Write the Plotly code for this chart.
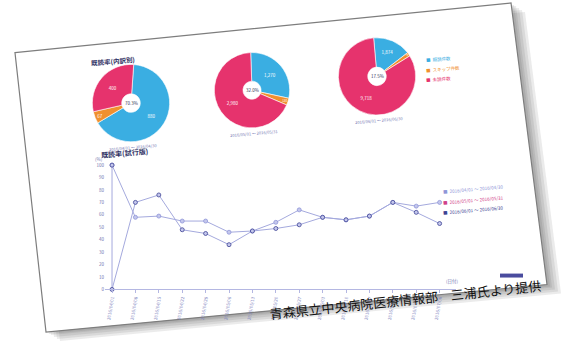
import plotly.graph_objects as go

W, H = 561, 342

# ---- pie charts: read status per period ----
pie_labels = ["既読件数", "スキップ件数", "未読件数"]
pie_colors = ["#3aaee2", "#f0902e", "#e6336d"]
pie_periods = ["2016/04/01 ～ 2016/04/30",
               "2016/05/01 ～ 2016/05/31",
               "2016/06/01 ～ 2016/06/30"]
pie_read = [880, 1270, 1874]
pie_skip = [67, 130, 190]
pie_unread = [400, 2980, 9718]

# ---- line chart: read rate per week ----
week_labels = ["2016/04/01", "2016/04/08", "2016/04/15", "2016/04/22", "2016/04/29",
               "2016/05/06", "2016/05/13", "2016/05/20", "2016/05/27", "2016/06/03",
               "2016/06/10", "2016/06/17", "2016/06/24", "2016/07/01", "2016/07/08"]
series_names = pie_periods
series_colors = ["#8f96d8", "#d0408a", "#3d4394"]
series_x = [
    list(range(15)),
    [],
    [0, 0] + list(range(1, 15)),
]
series_y = [
    [100, 58, 59, 55, 55, 46, 47, 54, 64, 58, 56, 59, 70, 67, 70],
    [],
    [100, 0, 70, 76, 48, 45, 36, 47, 49, 52, 58, 56, 59, 70, 62, 53],
]

FONT = "Noto Sans CJK JP"


def px(x, y):
    return x / W, 1 - y / H


def note(x, y, text, size, color, angle=0, anchor="center"):
    ax, ay = px(x, y)
    return dict(x=ax, y=ay, xref="paper", yref="paper", text=text,
                showarrow=False, textangle=angle, xanchor=anchor, yanchor="middle",
                font=dict(size=size, color=color, family=FONT))


def pie_domain(cx, cy, d):
    return dict(x=[(cx - d / 2) / W, (cx + d / 2) / W],
                y=[1 - (cy + d / 2) / H, 1 - (cy - d / 2) / H])


fig = go.Figure()

pie_geom = [(131, 104, 78, 4), (252, 91, 76, -2), (377, 77, 78, -5)]
annotations = []
for i, (cx, cy, d, rot) in enumerate(pie_geom):
    vals = [pie_read[i], pie_skip[i], pie_unread[i]]
    fig.add_trace(go.Pie(
        labels=pie_labels, values=vals, sort=False, direction="clockwise",
        rotation=rot, hole=0.24,
        marker=dict(colors=pie_colors, line=dict(color="white", width=0.6)),
        texttemplate="%{value:,}", textposition="inside",
        insidetextorientation="horizontal",
        textfont=dict(color="white", size=4.5, family=FONT),
        domain=pie_domain(cx, cy, d), showlegend=False, hoverinfo="label+value",
    ))
    pct = (pie_read[i] + pie_skip[i]) / sum(vals) * 100
    annotations.append(note(cx, cy, f"{pct:.1f}%", 4.5, "#333355"))
    annotations.append(note(cx + 2, cy + d / 2 + 5, pie_periods[i], 4, "#6f74b0", -5))

# legend for the pies
for i, lab in enumerate(pie_labels):
    annotations.append(note(
        424, 60 + 10 * i,
        f"<span style='color:{pie_colors[i]}'>■</span>  {lab}",
        4.5, pie_colors[i], -5, "left"))

# line traces
for name, color, xs, ys in zip(series_names, series_colors, series_x, series_y):
    fig.add_trace(go.Scatter(
        x=xs, y=ys, name=name, mode="lines+markers", xaxis="x", yaxis="y",
        line=dict(color="#a4a9dd", width=1),
        marker=dict(size=4, color="#c4c7ec", line=dict(color=color, width=0.8)),
        cliponaxis=False, showlegend=False,
    ))

# legend for the lines
for i, name in enumerate(series_names):
    annotations.append(note(
        441, 191 + 10.5 * i,
        f"<span style='color:{series_colors[i]}'>■</span>  {name}",
        4.5, series_colors[i], -5, "left"))

# titles and axis captions
annotations.append(note(88, 62, "<b>既読率(内訳別)</b>", 6.5, "#2f3164", -5, "left"))
annotations.append(note(98, 154, "<b>既読率(試行版)</b>", 7, "#2f3164", -5, "left"))
annotations.append(note(99, 160, "(%)", 4.5, "#6f74b0"))
annotations.append(note(452, 284, "(日付)", 4.5, "#6f74b0"))

# credit line
annotations.append(note(405, 302, "青森県立中央病院医療情報部　三浦氏より提供",
                        13, "#111111", -6))

# the printed sheet with its shadow
corners = [(15, 53), (511, 3), (547, 287), (46, 335)]


def sheet_path(dx=0, dy=0):
    pts = [px(x + dx, y + dy) for x, y in corners]
    return "M " + " L ".join(f"{a:.4f},{b:.4f}" for a, b in pts) + " Z"


shapes = []
for dx, dy in [(14, 9), (11, 7), (8, 5), (5, 3), (3, 2)]:
    shapes.append(dict(type="path", xref="paper", yref="paper", layer="below",
                       path=sheet_path(dx, dy), line=dict(width=0),
                       fillcolor="rgba(60,60,60,0.10)"))
shapes.append(dict(type="path", xref="paper", yref="paper", layer="below",
                   path=sheet_path(), fillcolor="white",
                   line=dict(color="#7d7d7d", width=1.2)))
bx0, by0 = px(500, 280)
bx1, by1 = px(523, 276)
shapes.append(dict(type="rect", xref="paper", yref="paper", layer="above",
                   x0=bx0, y0=by0, x1=bx1, y1=by1, line=dict(width=0),
                   fillcolor="#4a4c9e"))

x0, _ = px(105, 0)
x1, _ = px(456, 0)
_, y0 = px(0, 292)
_, y1 = px(0, 160.3)

fig.update_layout(
    width=W, height=H, margin=dict(l=0, r=0, t=0, b=0),
    paper_bgcolor="white", plot_bgcolor="rgba(0,0,0,0)",
    font=dict(family=FONT),
    xaxis=dict(domain=[x0, x1], range=[-0.3, 14.7], tickmode="array",
               tickvals=list(range(15)), ticktext=week_labels, tickangle=-80,
               tickfont=dict(size=4.5, color="#7d82bd"), showgrid=False, zeroline=False,
               showline=True, linecolor="#b4b7e2", linewidth=1,
               ticks="outside", ticklen=3, tickcolor="#b4b7e2"),
    yaxis=dict(domain=[y0, y1], range=[0, 105], tickmode="array",
               tickvals=list(range(0, 101, 10)),
               tickfont=dict(size=4.5, color="#6f74b0"), showgrid=False,
               zeroline=False, showline=False, ticks=""),
    annotations=annotations, shapes=shapes,
)

fig.write_html("out.html")
